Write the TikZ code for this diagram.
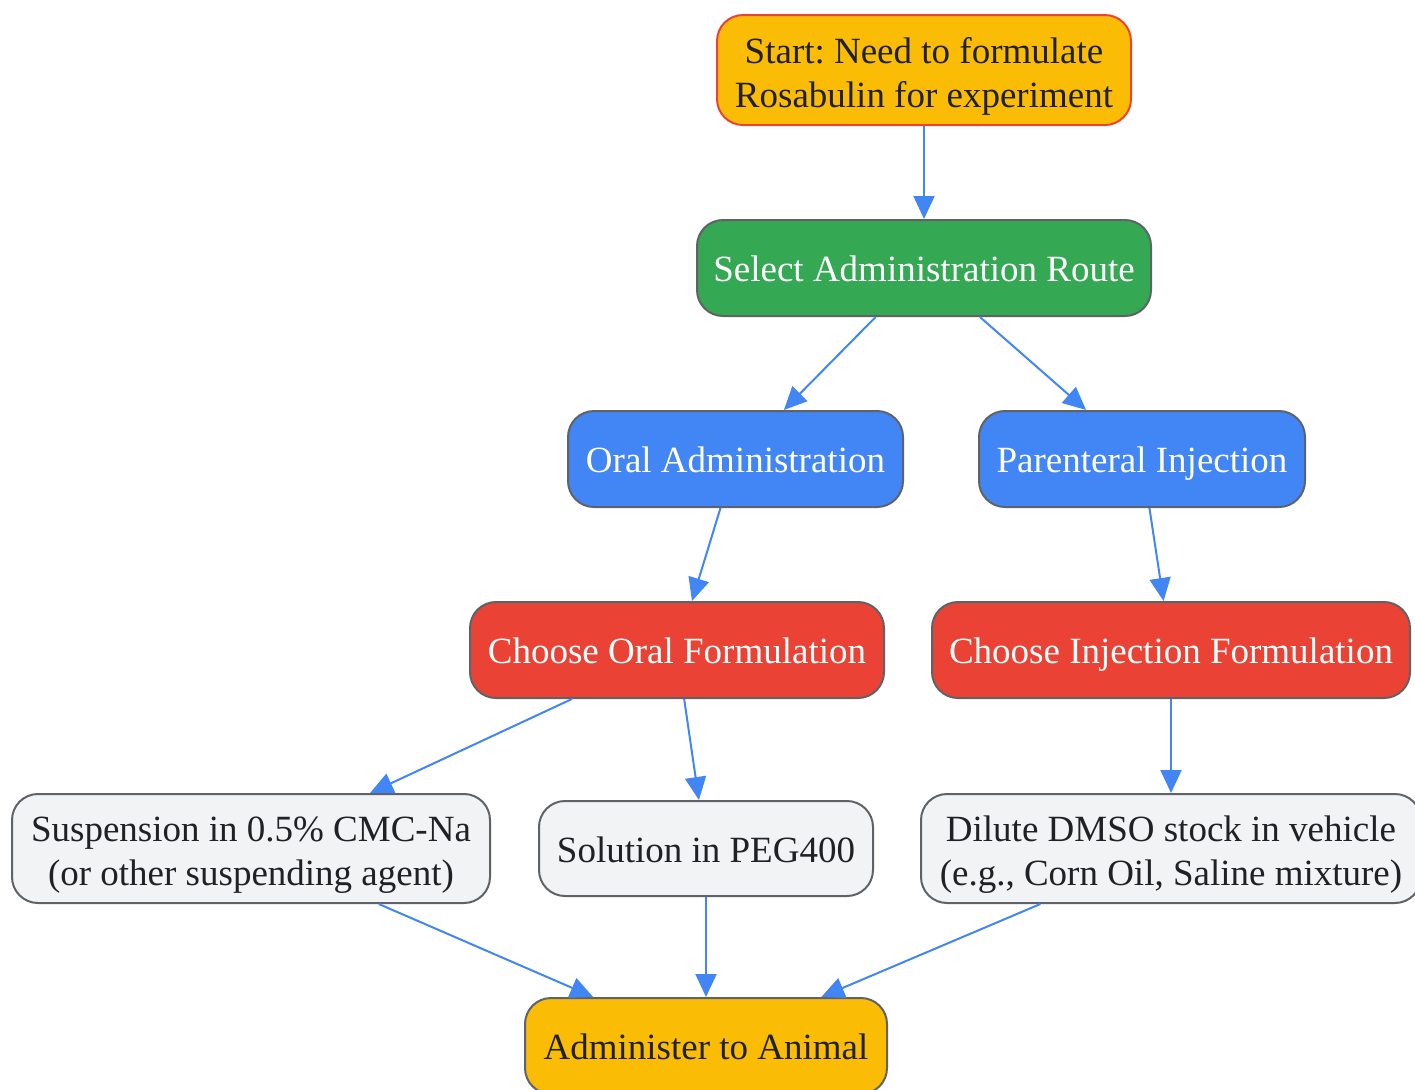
\documentclass[tikz,border=0pt]{standalone}
\usepackage{fontspec}
\setmainfont{Liberation Serif}
\usetikzlibrary{arrows.meta}
\usetikzlibrary{positioning}
\frenchspacing

\definecolor{gyellow}{HTML}{FBBC05}
\definecolor{gred}{HTML}{EA4335}
\definecolor{ggreen}{HTML}{34A853}
\definecolor{gblue}{HTML}{4285F4}
\definecolor{glight}{HTML}{F1F3F4}
\definecolor{gborder}{HTML}{5F6368}
\definecolor{gtext}{HTML}{202124}

% strut for the first line of two-line boxes
\newcommand{\firstline}{\rule{0pt}{19pt}}

\tikzset{
    box/.style={draw=gborder, line width=1pt, rounded corners=13pt, align=center,
        inner xsep=8pt, inner ysep=3pt, minimum height=48pt,
        font=\fontsize{18.5}{22}\selectfont},
    oneline/.style={text height=13.5pt, text depth=0pt},
    startbox/.style={box, fill=gyellow, draw=gred, text=gtext, minimum height=55pt},
    endbox/.style={box, oneline, fill=gyellow, text=gtext},
    routebox/.style={box, oneline, fill=ggreen, text=white},
    waybox/.style={box, oneline, fill=gblue, text=white},
    choicebox/.style={box, oneline, fill=gred, text=white},
    recipebox/.style={box, fill=glight, text=gtext},
    flow/.style={draw=gblue, line width=1pt, -{Triangle[length=11.5pt,width=10.5pt]}}
}

\begin{document}
\begin{tikzpicture}[x=0.5pt, y=-0.5pt]
    \useasboundingbox (0,0) rectangle (1415,1089);

    % Start
    \node[startbox, minimum width=207pt] (start) at (924,70) {\firstline Start: Need to formulate\\Rosabulin for experiment};
    % Route decision
    \node[routebox, minimum width=227pt] (route) at (924,268) {Select Administration Route};
    % Two routes
    \node[waybox, minimum width=167.5pt] (oral) at (735.5,459) {Oral Administration};
    \node[waybox, minimum width=163pt] (inj) at (1142,459) {Parenteral Injection};
    % Formulation choices
    \node[choicebox, minimum width=207pt] (oralform) at (677,650) {Choose Oral Formulation};
    \node[choicebox, minimum width=239pt] (injform) at (1171,650) {Choose Injection Formulation};
    % Vehicles
    \node[recipebox, minimum width=239pt, minimum height=54.5pt] (susp) at (251,848.5) {\firstline Suspension in 0.5\% CMC-Na\\(or other suspending agent)};
    \node[recipebox, oneline, minimum width=167pt, minimum height=47.5pt] (peg) at (706,848.5) {Solution in PEG400};
    \node[recipebox, minimum width=250pt, minimum height=54.5pt] (dmso) at (1171,848.5) {\firstline Dilute DMSO stock in vehicle\\(e.g., Corn Oil, Saline mixture)};
    % End
    \node[endbox, minimum width=181pt] (admin) at (706,1046) {Administer to Animal};

    % Arrows
    \draw[flow] (start) -- (route);
    \draw[flow] (route) -- (oral);
    \draw[flow] (route) -- (inj);
    \draw[flow] (oral) -- (oralform);
    \draw[flow] (inj) -- (injform);
    \draw[flow] (oralform) -- (susp);
    \draw[flow] (oralform) -- (peg);
    \draw[flow] (injform) -- (dmso);
    \draw[flow] (susp) -- (admin);
    \draw[flow] (peg) -- (admin);
    \draw[flow] (dmso) -- (admin);
\end{tikzpicture}
\end{document}
